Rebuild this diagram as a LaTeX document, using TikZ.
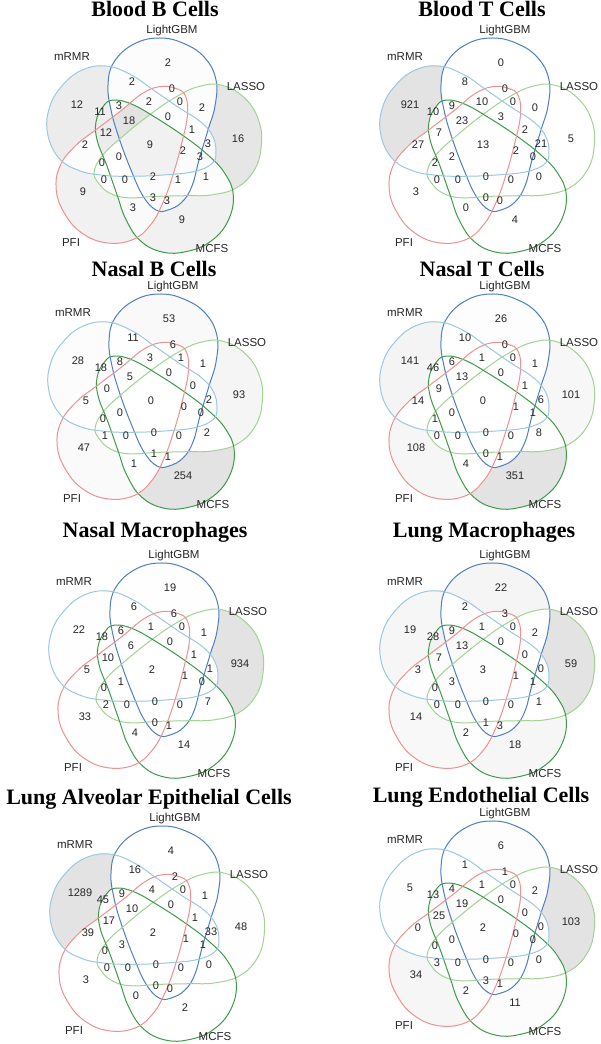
\documentclass[tikz,border=0pt]{standalone}
\usepackage{fontspec}
\setmainfont{Liberation Sans}
\newfontfamily\titlefont{Liberation Serif}
\definecolor{cgbm}{HTML}{4F7FBF}
\definecolor{cmrmr}{HTML}{9CC8E0}
\definecolor{classo}{HTML}{A3D394}
\definecolor{cmcfs}{HTML}{3E9B4A}
\definecolor{cpfi}{HTML}{F09090}
% one set (LightGBM); the other four are the same shape turned by 72 degrees
\newcommand\vennshape{plot[smooth cycle,tension=.7] coordinates {(8,110) (-18,104) (-38,86) (-44,63) (-41,38) (-33,10) (-21,-22) (-9,-48) (4,-62) (16,-62) (30,-54) (40,-38) (47,-12) (56,18) (63,42) (64,68) (53,90) (33,104)}}
\newcommand\vclip[1]{\clip[rotate=-72*(#1)] \vennshape;}
% label places: singles, pairs, pairs, triples, triples, quadruples, centre
\def\labx{{16,86,30,-69,-75,-20,50,54,-19,-67,20,56,15,-48,-52,-3,40,26,-27,-46,-33,28,48,1,-50,-23,16,31,1,-33,-2}}
\def\laby{{85,9,-72,-44,43,66,40,-29,-60,3,59,4,-53,-32,36,46,18,-32,-32,15,42,46,-9,-50,-15,27,31,-3,-29,-9,3}}
\newcommand\vennpanel[5]{% name, centre x, centre y, largest count, counts
  \begin{scope}[shift={(#2,#3)},name prefix=#1-]
    \foreach \val [count=\i from 0] in {#5}{
      \pgfmathtruncatemacro\orb{int(\i/5)}
      \pgfmathtruncatemacro\kk{mod(\i,5)}
      \pgfmathsetmacro\lvl{11*\val/#4}
      \begin{scope}
        \ifcase\orb\relax \vclip{\kk}
        \or \vclip{\kk}\vclip{\kk+4}
        \or \vclip{\kk}\vclip{\kk+3}
        \or \vclip{\kk}\vclip{\kk+3}\vclip{\kk+4}
        \or \vclip{\kk}\vclip{\kk+2}\vclip{\kk+4}
        \or \vclip{\kk}\vclip{\kk+2}\vclip{\kk+3}\vclip{\kk+4}
        \or \vclip{0}\vclip{1}\vclip{2}\vclip{3}\vclip{4}
        \fi
        \fill[black!\lvl] (-130,-130) rectangle (130,130);
      \end{scope}
    }
    \foreach \kk/\col in {0/cgbm,1/classo,2/cmcfs,3/cpfi,4/cmrmr}
      \draw[setline,\col,rotate=-72*\kk] \vennshape;
    \foreach \val [count=\i from 0] in {#5}{
      \pgfmathsetmacro\lx{\labx[\i]}
      \pgfmathsetmacro\ly{\laby[\i]}
      \node[num] (n\i) at (\lx,\ly) {\val};
    }
    \node[setname] (gbm) at (20,117) {LightGBM};
    \node[setname] (mrmr) at (-80,91) {mRMR};
    \node[setname] (lasso) at (94,61) {LASSO};
    \node[setname] (pfi) at (-81,-95) {PFI};
    \node[setname] (mcfs) at (60,-101) {MCFS};
  \end{scope}}
\begin{document}
\begin{tikzpicture}[x=1pt,y=1pt,line join=round,
  setline/.style={line width=1pt},
  num/.style={inner sep=0pt,text=black!85,font=\fontsize{11}{11}\selectfont},
  setname/.style={inner sep=0pt,text=black!85,font=\fontsize{11.5}{12}\selectfont},
  paneltitle/.style={anchor=base,inner sep=0pt,font=\titlefont\bfseries\fontsize{22}{22}\selectfont}]
\fill[white] (0,0) rectangle (600,1044);
\useasboundingbox (0,0) rectangle (600,1044);
%========================
\vennpanel{bb}{152}{896}{18}{2,16,9,9,12, 2,2,1,3,2, 0,3,3,0,11, 2,1,1,0,12, 3,0,3,3,0, 18,0,2,2,0, 9}
\vennpanel{bt}{485}{896}{921}{0,5,4,3,921, 8,0,0,0,27, 0,21,0,0,10, 10,2,0,0,7, 9,0,0,0,2, 23,3,2,0,2, 13}
\vennpanel{nb}{153}{640}{254}{53,93,254,47,28, 11,1,2,1,5, 6,2,1,1,18, 3,0,0,0,0, 8,1,0,1,0, 5,0,0,0,0, 0}
\vennpanel{nt}{485}{640}{351}{26,101,351,108,141, 10,1,8,4,14, 0,6,1,0,46, 1,1,0,0,9, 6,0,1,0,1, 13,0,1,0,0, 0}
\vennpanel{nm}{154}{371}{934}{19,934,14,33,22, 6,1,7,4,5, 6,1,1,2,18, 1,1,0,0,10, 6,0,0,0,0, 6,0,1,0,1, 2}
\vennpanel{lm}{485}{371}{59}{22,59,18,14,19, 2,2,1,2,3, 3,0,3,0,28, 1,0,0,0,7, 9,0,1,1,0, 13,0,1,0,3, 3}
\vennpanel{la}{155}{108}{1289}{4,48,2,3,1289, 16,1,0,0,39, 2,33,0,0,45, 4,1,0,0,17, 9,0,1,0,0, 10,0,1,0,3, 2}
\vennpanel{le}{485}{113}{103}{6,103,11,34,5, 1,2,0,2,0, 1,0,1,3,13, 1,0,0,0,25, 4,0,0,3,0, 19,0,0,0,0, 2}
%========================
\node[paneltitle] (tbb) at (155,1027) {Blood B Cells};
\node[paneltitle] (tbt) at (482,1027) {Blood T Cells};
\node[paneltitle] (tnb) at (154,767) {Nasal B Cells};
\node[paneltitle] (tnt) at (482,767) {Nasal T Cells};
\node[paneltitle] (tnm) at (155,506) {Nasal Macrophages};
\node[paneltitle] (tlm) at (484,506) {Lung Macrophages};
\node[paneltitle] (tla) at (149,239) {Lung Alveolar Epithelial Cells};
\node[paneltitle] (tle) at (481,241) {Lung Endothelial Cells};
\end{tikzpicture}
\end{document}
